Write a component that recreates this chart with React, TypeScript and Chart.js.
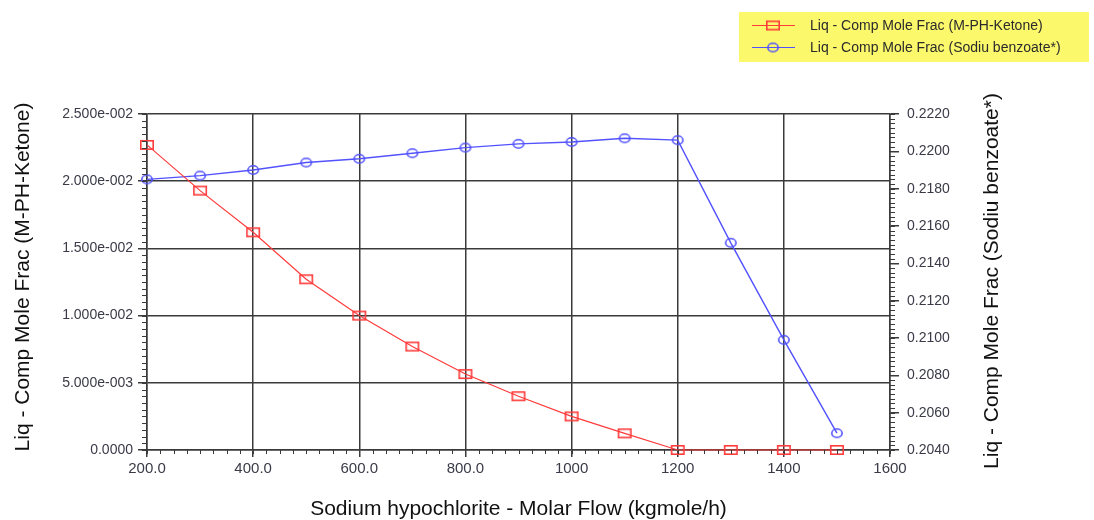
import React, { useEffect, useRef } from "react";
import { Chart, registerables } from "chart.js";

Chart.register(...registerables);

// ---- data ----
const flows = [200, 300, 400, 500, 600, 700, 800, 900, 1000, 1100, 1200, 1300, 1400, 1500];
const ketoneFrac = [0.0227, 0.0193, 0.0162, 0.0127, 0.0100, 0.0077, 0.00565, 0.0040, 0.0025, 0.00124, 0, 0, 0, 0];
const benzoateFrac = [0.2185, 0.2187, 0.2190, 0.2194, 0.2196, 0.2199, 0.2202, 0.2204, 0.2205, 0.2207, 0.2206, 0.2151, 0.2099, 0.2049];

const xTicks = [200, 400, 600, 800, 1000, 1200, 1400, 1600];
const xTickLabels = ["200.0", "400.0", "600.0", "800.0", "1000", "1200", "1400", "1600"];
const leftTicks = [0, 0.005, 0.01, 0.015, 0.02, 0.025];
const leftTickLabels = ["0.0000", "5.000e-003", "1.000e-002", "1.500e-002", "2.000e-002", "2.500e-002"];
const rightTicks = [0.204, 0.206, 0.208, 0.21, 0.212, 0.214, 0.216, 0.218, 0.22, 0.222];
const rightTickLabels = ["0.2040", "0.2060", "0.2080", "0.2100", "0.2120", "0.2140", "0.2160", "0.2180", "0.2200", "0.2220"];

const seriesNames = ["Liq - Comp Mole Frac (M-PH-Ketone)", "Liq - Comp Mole Frac (Sodiu benzoate*)"];
const xTitle = "Sodium hypochlorite - Molar Flow (kgmole/h)";
const leftTitle = "Liq - Comp Mole Frac (M-PH-Ketone)";
const rightTitle = "Liq - Comp Mole Frac (Sodiu benzoate*)";

const FONT = "'Liberation Sans', Arial, sans-serif";
const RED = "#ff3b3b";
const BLUE = "#5252ff";
const GRID = "#3a3a3a";

function makeRect(w: number, h: number, color: string, lw: number) {
  const c = document.createElement("canvas");
  c.width = w + 2;
  c.height = h + 2;
  const g = c.getContext("2d")!;
  g.strokeStyle = color;
  g.lineWidth = lw;
  g.strokeRect(1 + lw / 2, 1 + lw / 2, w - lw, h - lw);
  return c;
}

function makeEllipse(w: number, h: number, color: string, lw: number) {
  const c = document.createElement("canvas");
  c.width = w + 2;
  c.height = h + 2;
  const g = c.getContext("2d")!;
  g.strokeStyle = color;
  g.lineWidth = lw;
  g.beginPath();
  g.ellipse(c.width / 2, c.height / 2, w / 2 - lw / 2, h / 2 - lw / 2, 0, 0, Math.PI * 2);
  g.stroke();
  return c;
}

export default function App() {
  const ref = useRef<HTMLCanvasElement | null>(null);

  useEffect(() => {
    if (!ref.current) return;
    const redMarker = makeRect(14, 10, RED, 1.6);
    const blueMarker = makeEllipse(12, 10, BLUE, 1.6);

    const deco = {
      id: "deco",
      afterDraw(chart: any) {
        const ctx = chart.ctx as CanvasRenderingContext2D;
        const ca = chart.chartArea;
        const sx = chart.scales.x;
        const sy = chart.scales.y;
        const sy1 = chart.scales.y1;
        ctx.save();
        ctx.strokeStyle = GRID;
        ctx.lineWidth = 1;
        // minor ticks
        for (let v = 200; v <= 1600; v += 25) {
          const px = Math.round(sx.getPixelForValue(v)) + 0.5;
          ctx.beginPath();
          ctx.moveTo(px, ca.bottom);
          ctx.lineTo(px, ca.bottom + 4);
          ctx.stroke();
        }
        for (let i = 0; i <= 50; i++) {
          const py = Math.round(sy.getPixelForValue(i * 0.0005)) + 0.5;
          ctx.beginPath();
          ctx.moveTo(ca.left - 5, py);
          ctx.lineTo(ca.left, py);
          ctx.stroke();
        }
        for (let i = 0; i <= 72; i++) {
          const py = Math.round(sy1.getPixelForValue(0.204 + i * 0.00025)) + 0.5;
          ctx.beginPath();
          ctx.moveTo(ca.right, py);
          ctx.lineTo(ca.right + 5, py);
          ctx.stroke();
        }

        // axis titles
        ctx.fillStyle = "#111";
        ctx.font = `21px ${FONT}`;
        ctx.textAlign = "center";
        ctx.textBaseline = "middle";
        ctx.fillText(xTitle, (ca.left + ca.right) / 2, 509);
        ctx.save();
        ctx.translate(23, 277);
        ctx.rotate(-Math.PI / 2);
        ctx.fillText(leftTitle, 0, 0);
        ctx.restore();
        ctx.save();
        ctx.translate(992, 281);
        ctx.rotate(-Math.PI / 2);
        ctx.fillText(rightTitle, 0, 0);
        ctx.restore();

        // legend
        ctx.fillStyle = "#fbf86c";
        ctx.fillRect(739, 12, 350, 50);
        const rows = [
          { y: 25, color: RED, marker: redMarker, name: seriesNames[0] },
          { y: 47, color: BLUE, marker: blueMarker, name: seriesNames[1] },
        ];
        ctx.font = `14px ${FONT}`;
        ctx.textAlign = "left";
        for (const r of rows) {
          ctx.strokeStyle = r.color;
          ctx.lineWidth = 1.2;
          ctx.beginPath();
          ctx.moveTo(752, r.y + 0.5);
          ctx.lineTo(795, r.y + 0.5);
          ctx.stroke();
          ctx.drawImage(r.marker, 773 - r.marker.width / 2, r.y - r.marker.height / 2 + 0.5);
          ctx.fillStyle = "#2a2a2a";
          ctx.fillText(r.name, 810, r.y + 1);
        }
        ctx.restore();
      },
    };

    const chart = new Chart(ref.current, {
      type: "line",
      data: {
        datasets: [
          {
            label: seriesNames[0],
            data: flows.map((x, i) => ({ x, y: ketoneFrac[i] })),
            yAxisID: "y",
            borderColor: RED,
            borderWidth: 1.2,
            pointStyle: redMarker as any,
            pointRadius: 7,
            tension: 0,
            clip: false as any,
          },
          {
            label: seriesNames[1],
            data: flows.map((x, i) => ({ x, y: benzoateFrac[i] })),
            yAxisID: "y1",
            borderColor: BLUE,
            borderWidth: 1.4,
            pointStyle: blueMarker as any,
            pointRadius: 6,
            tension: 0,
            clip: false as any,
          },
        ],
      },
      options: {
        animation: false,
        responsive: false,
        layout: { padding: { left: 0, right: 0, top: 114, bottom: 0 } },
        plugins: { legend: { display: false }, tooltip: { enabled: false } },
        scales: {
          x: {
            type: "linear",
            min: 200,
            max: 1600,
            afterBuildTicks: (s: any) => {
              s.ticks = xTicks.map((v) => ({ value: v }));
            },
            afterFit: (s: any) => {
              s.height = 70;
            },
            ticks: {
              callback: (_v: any, i: number) => xTickLabels[i],
              font: { family: FONT, size: 15 },
              color: "#3a3a48",
              padding: 3,
              maxRotation: 0,
              autoSkip: false,
            },
            grid: { color: GRID, lineWidth: 1.5, tickLength: 7 },
            border: { color: GRID, width: 1.5 },
          },
          y: {
            type: "linear",
            position: "left",
            min: 0,
            max: 0.025,
            afterBuildTicks: (s: any) => {
              s.ticks = leftTicks.map((v) => ({ value: v }));
            },
            afterFit: (s: any) => {
              s.width = 147;
            },
            ticks: {
              callback: (_v: any, i: number) => leftTickLabels[i],
              font: { family: FONT, size: 14 },
              color: "#3a3a48",
              padding: 5,
              autoSkip: false,
            },
            grid: { color: GRID, lineWidth: 1.5, tickLength: 9 },
            border: { color: GRID, width: 1.5 },
          },
          y1: {
            type: "linear",
            position: "right",
            min: 0.204,
            max: 0.222,
            afterBuildTicks: (s: any) => {
              s.ticks = rightTicks.map((v) => ({ value: v }));
            },
            afterFit: (s: any) => {
              s.width = 204;
            },
            ticks: {
              callback: (_v: any, i: number) => rightTickLabels[i],
              font: { family: FONT, size: 14 },
              color: "#3a3a48",
              padding: 8,
              autoSkip: false,
            },
            grid: { color: GRID, lineWidth: 1.5, tickLength: 9, drawOnChartArea: false },
            border: { color: GRID, width: 1.5 },
          },
        },
      } as any,
      plugins: [deco],
    });
    return () => chart.destroy();
  }, []);

  return (
    <div style={{ position: "fixed", left: 0, top: 0, width: 1094, height: 520, background: "#fff" }}>
      <canvas ref={ref} width={1094} height={520} style={{ display: "block" }} />
    </div>
  );
}
